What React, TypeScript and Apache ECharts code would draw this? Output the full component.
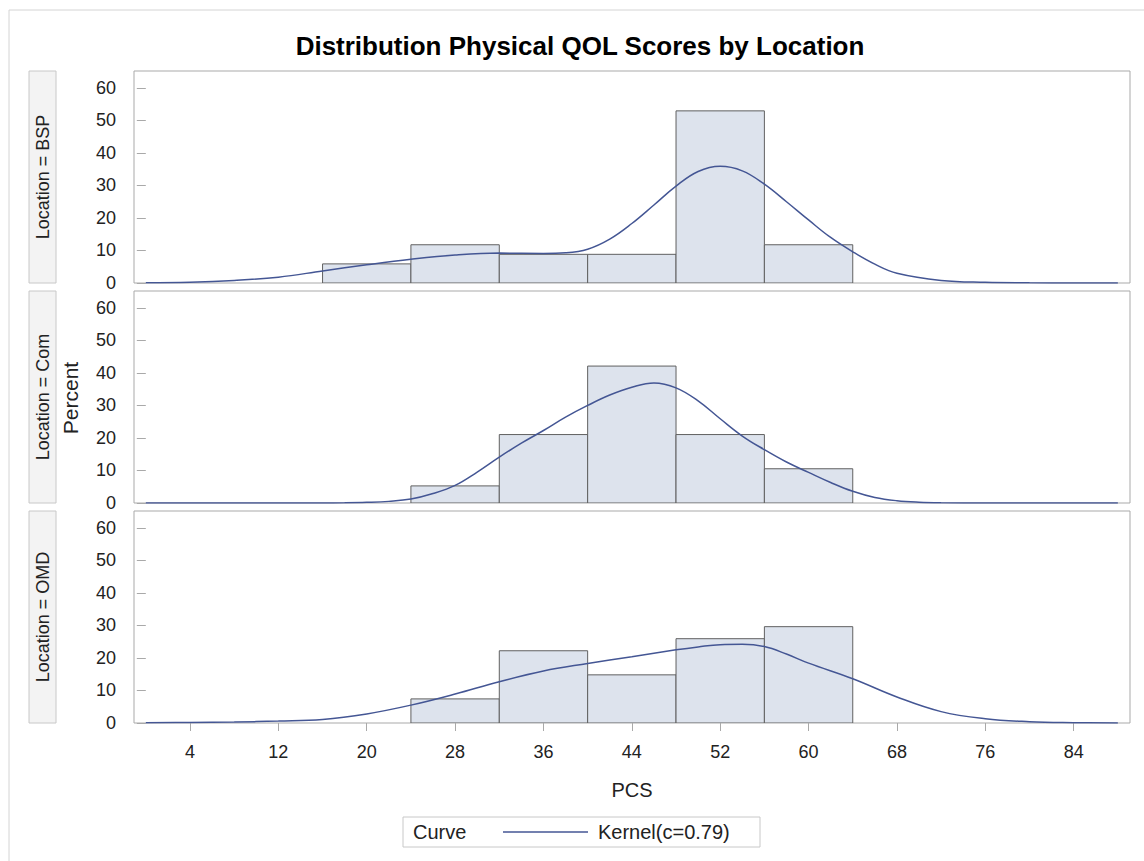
import React, { useEffect, useRef } from "react";
import * as echarts from "echarts";

const panelNames = ["Location = BSP", "Location = Com", "Location = OMD"];
const binWidth = 8;
const bspBinLefts = [16, 24, 32, 40, 48, 56];
const bspPercents = [5.88, 11.76, 8.82, 8.82, 52.94, 11.76];
const comBinLefts = [24, 32, 40, 48, 56];
const comPercents = [5.26, 21.05, 42.11, 21.05, 10.53];
const omdBinLefts = [24, 32, 40, 48, 56];
const omdPercents = [7.41, 22.22, 14.81, 25.93, 29.63];

const bspCurveX = [0, 4, 8, 12, 16, 20, 24, 28, 32, 36, 38, 40, 42, 44, 46, 48, 50, 52, 54, 56, 58, 60, 62, 64, 66, 68, 72, 76, 80, 84, 88];
const bspCurveY = [0.1, 0.25, 0.8, 1.8, 3.7, 5.6, 7.3, 8.6, 9.2, 9.1, 9.3, 10.4, 13.5, 18.3, 24.0, 29.8, 34.3, 35.9, 34.5, 30.4, 25.0, 19.4, 14.0, 9.6, 5.8, 3.0, 0.8, 0.2, 0.05, 0, 0];
const comCurveX = [0, 4, 8, 12, 16, 18, 20, 22, 24, 26, 28, 30, 32, 34, 36, 38, 40, 42, 44, 46, 48, 50, 52, 54, 56, 58, 60, 62, 64, 66, 68, 70, 72, 76, 80, 84, 88];
const comCurveY = [0, 0, 0, 0, 0.02, 0.06, 0.2, 0.5, 1.2, 2.9, 5.4, 9.5, 14.1, 18.4, 22.3, 26.4, 30.0, 33.2, 35.6, 36.9, 35.4, 31.4, 25.9, 20.6, 16.4, 12.6, 9.4, 6.3, 3.6, 1.7, 0.7, 0.25, 0.08, 0, 0, 0, 0];
const omdCurveX = [0, 4, 8, 12, 16, 20, 24, 28, 32, 36, 40, 44, 48, 50, 52, 54, 56, 58, 60, 64, 68, 72, 76, 80, 84, 88];
const omdCurveY = [0.1, 0.15, 0.3, 0.6, 1.1, 2.8, 5.5, 8.9, 12.7, 16.0, 18.3, 20.4, 22.5, 23.4, 24.1, 24.2, 23.5, 21.2, 18.4, 13.6, 8.0, 3.5, 1.3, 0.4, 0.1, 0];

const xTicks = [4, 12, 20, 28, 36, 44, 52, 60, 68, 76, 84];
const yTicks = [0, 10, 20, 30, 40, 50, 60];
const xMin = -1.07;
const xMax = 89.1;
const yMax = 65.2;

const titleText = "Distribution Physical QOL Scores by Location";
const xName = "PCS";
const yName = "Percent";
const legendTitle = "Curve";
const legendItem = "Kernel(c=0.79)";

const FONT = "'Liberation Sans', Arial, sans-serif";
const BAR_FILL = "#dde3ed";
const BAR_STROKE = "#606060";
const CURVE = "#445694";
const FRAME = "#a9a9a9";

export default function App() {
  const ref = useRef<HTMLDivElement>(null);
  useEffect(() => {
    document.body.style.margin = "0";
    const chart = echarts.init(ref.current!, null, { renderer: "svg" });
    const lefts = [bspBinLefts, comBinLefts, omdBinLefts];
    const pcts = [bspPercents, comPercents, omdPercents];
    const cx = [bspCurveX, comCurveX, omdCurveX];
    const cy = [bspCurveY, comCurveY, omdCurveY];
    const tops = [71, 291, 511];
    const gh = 212;
    const gl = 134;
    const gw = 996;

    const grids = tops.map((t) => ({
      left: gl, top: t, width: gw, height: gh, show: true,
      borderColor: FRAME, borderWidth: 1, backgroundColor: "#fff",
    }));
    const xAxes = tops.map((_, i) => ({
      type: "value", gridIndex: i, min: xMin, max: xMax,
      axisLine: { show: false },
      splitLine: { show: false },
      axisTick: { show: i === 2, length: 8, lineStyle: { color: FRAME }, customValues: xTicks },
      axisLabel: { show: i === 2, customValues: xTicks, margin: 20, color: "#222", fontSize: 18, fontFamily: FONT },
    }));
    const yAxes = tops.map((_, i) => ({
      type: "value", gridIndex: i, min: 0, max: yMax,
      axisLine: { show: false },
      splitLine: { show: false },
      axisTick: { show: true, length: 9, lineStyle: { color: FRAME }, customValues: yTicks },
      axisLabel: { customValues: yTicks, margin: 18, color: "#222", fontSize: 18, fontFamily: FONT },
    }));
    const series: any[] = [];
    tops.forEach((_, i) => {
      series.push({
        type: "custom", xAxisIndex: i, yAxisIndex: i, clip: true, z: 2,
        encode: { x: [0, 1], y: 2 },
        data: lefts[i].map((l, k) => [l, l + binWidth, pcts[i][k]]),
        renderItem: (params: any, api: any) => {
          const p0 = api.coord([api.value(0), 0]);
          const p1 = api.coord([api.value(1), api.value(2)]);
          return {
            type: "rect",
            shape: { x: p0[0], y: p1[1], width: p1[0] - p0[0], height: p0[1] - p1[1] },
            style: { fill: BAR_FILL, stroke: BAR_STROKE, lineWidth: 1 },
          };
        },
      });
      series.push({
        type: "line", xAxisIndex: i, yAxisIndex: i, z: 3,
        data: cx[i].map((x, k) => [x, cy[i][k]]),
        showSymbol: false, smooth: 0.4,
        lineStyle: { color: CURVE, width: 1.5 },
      });
    });

    const graphic: any[] = [
      { type: "rect", shape: { x: 9, y: 10, width: 1160, height: 900 }, style: { fill: "none", stroke: "#d4d4d4", lineWidth: 1 }, z: -10 },
      { type: "text", x: 580, y: 46, style: { text: titleText, font: `bold 26px ${FONT}`, fill: "#000", align: "center", verticalAlign: "middle" } },
      { type: "text", x: 632, y: 790, style: { text: xName, font: `20px ${FONT}`, fill: "#222", align: "center", verticalAlign: "middle" } },
      { type: "text", x: 70, y: 398, rotation: Math.PI / 2, style: { text: yName, font: `21px ${FONT}`, fill: "#222", align: "center", verticalAlign: "middle" } },
      { type: "rect", shape: { x: 403, y: 817, width: 357, height: 30 }, style: { fill: "#fff", stroke: "#c8c8c8", lineWidth: 1 } },
      { type: "text", x: 413, y: 832, style: { text: legendTitle, font: `20px ${FONT}`, fill: "#222", align: "left", verticalAlign: "middle" } },
      { type: "line", shape: { x1: 503, y1: 832, x2: 588, y2: 832 }, style: { stroke: CURVE, lineWidth: 1.5 } },
      { type: "text", x: 598, y: 832, style: { text: legendItem, font: `20px ${FONT}`, fill: "#222", align: "left", verticalAlign: "middle" } },
    ];
    tops.forEach((t, i) => {
      graphic.push({ type: "rect", shape: { x: 29, y: t, width: 27, height: gh }, style: { fill: "#f3f3f3", stroke: "#c8c8c8", lineWidth: 1 } });
      graphic.push({ type: "text", x: 42.5, y: t + gh / 2, rotation: Math.PI / 2, style: { text: panelNames[i], font: `18px ${FONT}`, fill: "#222", align: "center", verticalAlign: "middle" } });
    });

    chart.setOption({
      animation: false,
      backgroundColor: "#fff",
      grid: grids,
      xAxis: xAxes,
      yAxis: yAxes,
      series,
      graphic,
    });
    return () => chart.dispose();
  }, []);
  return <div ref={ref} style={{ width: 1144, height: 861 }} />;
}
